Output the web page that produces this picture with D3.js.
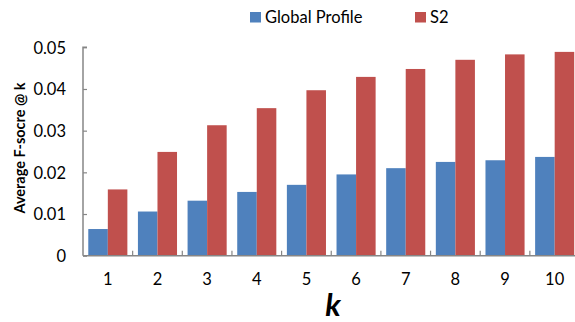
<!DOCTYPE html>
<html>
<head>
<meta charset="utf-8">
<script src="https://cdn.jsdelivr.net/npm/d3@7"></script>
<style>
  html, body { margin: 0; padding: 0; background: #fff; }
  svg { display: block; }
  text { font-family: Lato, "Open Sans", "DejaVu Sans", sans-serif; fill: #000; }
</style>
</head>
<body>
<svg id="chart" width="575" height="322"></svg>
<script>
// Average F-score @ k for the two methods
const categories = ["1", "2", "3", "4", "5", "6", "7", "8", "9", "10"];
const seriesNames = ["Global Profile", "S2"];
const globalProfile = [0.0064, 0.0106, 0.0132, 0.0153, 0.0170, 0.0195, 0.0210, 0.0225, 0.0229, 0.0237];
const s2 = [0.0159, 0.0249, 0.0313, 0.0354, 0.0397, 0.0429, 0.0448, 0.0470, 0.0483, 0.0489];
const yTicks = [0, 0.01, 0.02, 0.03, 0.04, 0.05];
const colors = ["#4F81BD", "#C0504D"];

const svg = d3.select("#chart");
const axisColor = "#868686";

const x = d3.scaleBand().domain(categories).range([83, 579.5]).padding(0);
const x1 = d3.scaleBand().domain(seriesNames).range([0, x.bandwidth()])
  .paddingInner(0).paddingOuter(0.27);
const y = d3.scaleLinear().domain([0, 0.05]).range([255.7, 47.3]);

const rows = categories.map((c, i) => ({ k: c, values: [globalProfile[i], s2[i]] }));

// bars
const groups = svg.append("g").selectAll("g").data(rows).join("g")
  .attr("transform", d => `translate(${x(d.k)},0)`);
groups.selectAll("rect")
  .data(d => d.values.map((v, j) => ({ name: seriesNames[j], v, j })))
  .join("rect")
  .attr("x", d => x1(d.name))
  .attr("width", x1.bandwidth())
  .attr("y", d => y(d.v))
  .attr("height", d => y(0) - y(d.v))
  .attr("fill", d => colors[d.j]);

// y axis: ticks point inward
const yAxis = svg.append("g").attr("transform", `translate(${x.range()[0]},0)`)
  .call(d3.axisRight(y).tickValues(yTicks).tickSize(4).tickFormat(d => d === 0 ? "0" : d3.format(".2f")(d)));
yAxis.select(".domain").attr("stroke", axisColor).attr("stroke-width", 1.5)
  .attr("d", `M4,${y(0.05)}H0V${y(0)}`);
yAxis.selectAll(".tick line").attr("stroke", axisColor).attr("stroke-width", 1.2);
yAxis.selectAll(".tick text")
  .attr("x", -17).attr("text-anchor", "end")
  .style("font-size", "16.5px").attr("dy", "0.36em");

// x axis: ticks between categories, pointing up
const xAxisG = svg.append("g");
xAxisG.append("line")
  .attr("x1", x.range()[0]).attr("x2", x.range()[1])
  .attr("y1", y(0)).attr("y2", y(0))
  .attr("stroke", axisColor).attr("stroke-width", 1.5);
xAxisG.selectAll("line.tk").data(categories.slice(1).concat(["end"])).join("line")
  .attr("class", "tk")
  .attr("x1", d => d === "end" ? x.range()[1] : x(d))
  .attr("x2", d => d === "end" ? x.range()[1] : x(d))
  .attr("y1", y(0)).attr("y2", y(0) - 5)
  .attr("stroke", axisColor).attr("stroke-width", 1.2);
xAxisG.selectAll("text").data(categories).join("text")
  .attr("x", d => x(d) + x.bandwidth() / 2)
  .attr("y", 285)
  .attr("text-anchor", "middle")
  .style("font-size", "16.5px")
  .text(d => d);

// axis titles
svg.append("text")
  .attr("transform", "translate(25,148) rotate(-90)")
  .attr("text-anchor", "middle")
  .style("font-size", "14.5px").style("font-weight", "bold")
  .text("Average F-socre @ k");
svg.append("text")
  .attr("x", 333).attr("y", 316)
  .attr("text-anchor", "middle")
  .style("font-size", "31px").style("font-weight", "bold").style("font-style", "italic")
  .text("k");

// legend
const legendX = [250, 415];
const legend = svg.append("g").selectAll("g").data(seriesNames).join("g")
  .attr("transform", (d, i) => `translate(${legendX[i]},12)`);
legend.append("rect").attr("width", 11).attr("height", 10.5).attr("fill", (d, i) => colors[i]);
legend.append("text").attr("x", 15).attr("y", 11).style("font-size", "16.5px").text(d => d);
</script>
</body>
</html>
